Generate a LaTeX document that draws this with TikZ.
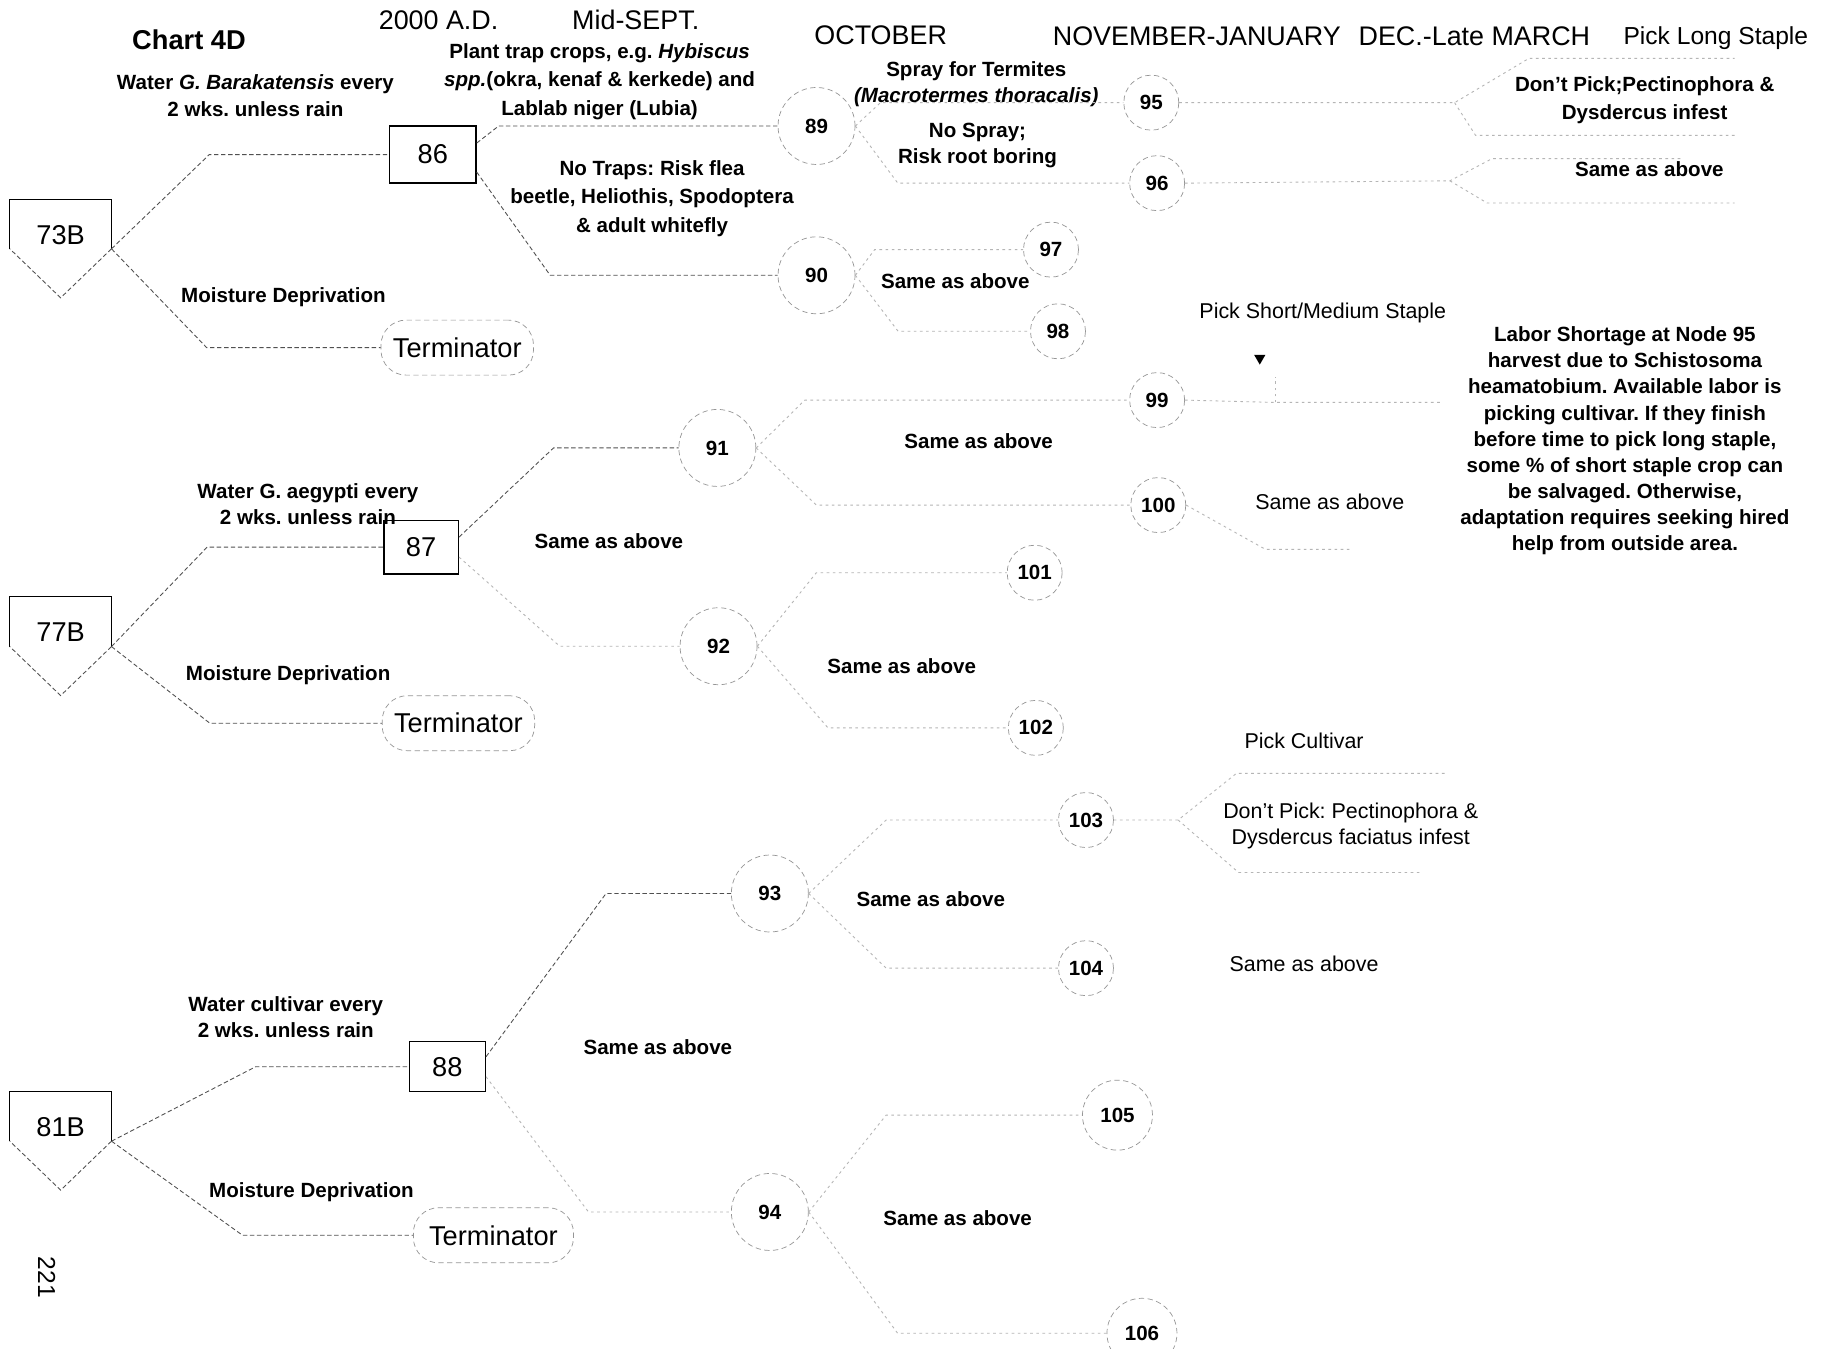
\documentclass[tikz,border=0pt]{standalone}
\usepackage{fontspec}
\setmainfont{Liberation Sans}
\usepackage{tikz}
\usetikzlibrary{arrows.meta,positioning,shapes.geometric}
\definecolor{inkgray}{RGB}{80,80,80}
\definecolor{fadegray}{RGB}{150,150,150}
\newcommand{\hdrfont}{\fontsize{15.3}{18}\selectfont}
\newcommand{\lblfont}{\fontsize{11.7}{14.9}\selectfont\bfseries}
\newcommand{\tallfont}{\fontsize{11.7}{16.2}\selectfont\bfseries}
\newcommand{\notefont}{\fontsize{12.2}{14.9}\selectfont}
\newcommand{\bigfont}{\fontsize{15.5}{18}\selectfont}
\frenchspacing

\begin{document}
\begin{tikzpicture}[
  x=0.2333mm, y=-0.2333mm,
  plate/.style={rectangle,minimum width=2.02cm,text height=0.895cm,text depth=0.085cm,
                inner ysep=0pt,inner xsep=0pt,font=\bigfont},
  box/.style={rectangle,draw=black,line width=0.8pt,inner sep=0pt,font=\bigfont},
  term/.style={rectangle,rounded corners=0.5cm,draw=fadegray,densely dashed,
               minimum width=3.05cm,minimum height=1.1cm,font=\bigfont},
  circ/.style={circle,draw=fadegray,densely dashed,inner sep=0pt,font=\lblfont},
  bigc/.style={circ,minimum size=1.54cm},
  smallc/.style={circ,minimum size=1.1cm},
  tri/.style={regular polygon,regular polygon sides=3,shape border rotate=180,
              fill=black,inner sep=0pt,minimum size=0.26cm},
  hdr/.style={font=\hdrfont},
  lbl/.style={align=center,font=\lblfont},
  note/.style={align=center,font=\notefont},
  branch/.style={draw=inkgray,dash pattern=on 2.5pt off 1.5pt,line width=0.5pt},
  faint/.style={draw=fadegray!70,dash pattern=on 1.5pt off 2pt,line width=0.5pt}
]
\path[use as bounding box,fill=white] (0,0) rectangle (1568,1156);

% column heads
\node[font=\bigfont\bfseries] (chart) at (162,34) {Chart 4D};
\node[hdr] (yr) at (376,17) {2000 A.D.};
\node[hdr] (sep) at (545,17) {Mid-SEPT.};
\node[hdr] (oct) at (755,30) {OCTOBER};
\node[hdr] (nov) at (1026,31) {NOVEMBER-JANUARY};
\node[hdr] (dec) at (1264,31) {DEC.-Late MARCH};
\node[font=\fontsize{14}{17}\selectfont] (lng) at (1471,33) {Pick Long Staple};

% starting plots
\node[plate] (p73) at (52,192) {73B};
\node[plate] (p77) at (52,533) {77B};
\node[plate] (p81) at (52,957) {81B};
\foreach \p in {p73,p77,p81}{
  \draw[line width=0.7pt] (\p.south west) -- (\p.north west) -- (\p.north east) -- (\p.south east);
  \draw[branch] (\p.south east) -- ([yshift=-0.98cm]\p.south) -- (\p.south west);
}

% decision boxes and terminators
\node[box,minimum width=1.73cm,minimum height=1.14cm] (n86) at (371,132.5) {86};
\node[box,minimum width=1.49cm,minimum height=1.07cm] (n87) at (361,469) {87};
\node[box,minimum width=1.52cm,minimum height=1.0cm] (n88) at (383.5,914.5) {88};
\node[term] (t73) at (392,298) {Terminator};
\node[term] (t77) at (393,620) {Terminator};
\node[term,minimum width=3.2cm] (t81) at (423,1059) {Terminator};

% chance nodes
\node[bigc] (c89) at (700,108) {89};
\node[bigc] (c90) at (700,236) {90};
\node[bigc] (c91) at (615,384) {91};
\node[bigc] (c92) at (616,554) {92};
\node[bigc] (c93) at (660,766) {93};
\node[bigc] (c94) at (660,1039) {94};
\foreach \n/\x/\y in {95/987/88,96/992/157,97/901/214,98/907/284,99/992/343,100/993/433,
                      101/887/491,102/888/624,103/931/703,104/931/830}
  \node[smallc] (c\n) at (\x,\y) {\n};
\node[smallc,minimum size=1.4cm] (c105) at (958,956) {105};
\node[smallc,minimum size=1.4cm] (c106) at (979,1143) {106};

% branch labels
\node[lbl] (w73) at (219,82) {Water \textit{G. Barakatensis} every\\2 wks. unless rain};
\node[lbl] (m73) at (243,255) {Moisture Deprivation};
\node[lbl,font=\tallfont] (trap) at (514,70) {Plant trap crops, e.g. \textit{Hybiscus}\\\textit{spp.}(okra, kenaf \& kerkede) and\\Lablab niger (Lubia)};
\node[lbl,font=\tallfont] (notrap) at (559,170) {No Traps: Risk flea\\beetle, Heliothis, Spodoptera\\\& adult whitefly};
\node[lbl] (spray) at (837,72) {Spray for Termites\\\textit{(Macrotermes thoracalis)}};
\node[lbl] (nospray) at (838,125) {No Spray;\\Risk root boring};
\node[lbl] (s90) at (819,241) {Same as above};
\node[lbl,font=\tallfont] (dp95) at (1410,86) {Don't Pick;Pectinophora \&\\Dysdercus infest};
\node[lbl] (s96) at (1414,145) {Same as above};
\node[note] (short) at (1134,268) {Pick Short/Medium Staple};
\node[lbl] (labor) at (1393,378) {Labor Shortage at Node 95\\harvest due to Schistosoma\\heamatobium. Available labor is\\picking cultivar. If they finish\\before time to pick long staple,\\some \% of short staple crop can\\be salvaged. Otherwise,\\adaptation requires seeking hired\\help from outside area.};
\node[lbl] (s91) at (839,378) {Same as above};
\node[lbl] (w77) at (264,432) {Water G. aegypti every\\2 wks. unless rain};
\node[lbl] (s87) at (522,464) {Same as above};
\node[note] (s100) at (1140,430) {Same as above};
\node[lbl] (m77) at (247,579) {Moisture Deprivation};
\node[lbl] (s92) at (773,571) {Same as above};
\node[note] (cult) at (1118,635) {Pick Cultivar};
\node[note] (dp103) at (1158,708) {Don't Pick: Pectinophora \&\\Dysdercus faciatus infest};
\node[lbl] (s93) at (798,771) {Same as above};
\node[note] (s104) at (1118,826) {Same as above};
\node[lbl] (w81) at (245,872) {Water cultivar every\\2 wks. unless rain};
\node[lbl] (s88) at (564,898) {Same as above};
\node[lbl] (m81) at (267,1022) {Moisture Deprivation};
\node[lbl] (s94) at (821,1044) {Same as above};
\node[font=\fontsize{14}{17}\selectfont,rotate=-90] (pg) at (40,1095) {221};

% first and second level branches
\draw[branch] (p73.south east) -- ([xshift=-3.59cm]n86.west) -- (n86.west);
\draw[branch] (p73.south east) -- ([xshift=-3.48cm]t73.west) -- (t73.west);
\draw[branch] ([yshift=0.23cm]n86.east) -- ([xshift=-5.58cm]c89.west) -- (c89.west);
\draw[branch] ([yshift=-0.35cm]n86.east) -- ([xshift=-4.55cm]c90.west) -- (c90.west);
\draw[branch] (p77.south east) -- ([xshift=-3.52cm]n87.west) -- (n87.west);
\draw[branch] (p77.south east) -- ([xshift=-3.44cm]t77.west) -- (t77.west);
\draw[branch] ([yshift=0.2cm]n87.east) -- ([xshift=-2.5cm]c91.west) -- (c91.west);
\draw[faint] ([yshift=-0.2cm]n87.east) -- ([xshift=-2.4cm]c92.west) -- (c92.west);
\draw[branch] (p81.south east) -- ([xshift=-3.06cm]n88.west) -- (n88.west);
\draw[branch] (p81.south east) -- ([xshift=-3.41cm]t81.west) -- (t81.west);
\draw[branch] ([yshift=0.2cm]n88.east) -- ([xshift=-2.5cm]c93.west) -- (c93.west);
\draw[faint] ([yshift=-0.2cm]n88.east) -- ([xshift=-2.85cm]c94.west) -- (c94.west);

% third level branches
\draw[faint] (c89.east) -- ([xshift=-4.86cm]c95.west) -- (c95.west);
\draw[faint] (c89.east) -- ([xshift=-4.63cm]c96.west) -- (c96.west);
\draw[faint] (c90.east) -- ([xshift=-2.97cm]c97.west) -- (c97.west);
\draw[faint] (c90.east) -- ([xshift=-2.64cm]c98.west) -- (c98.west);
\draw[faint] (c91.east) -- ([xshift=-6.49cm]c99.west) -- (c99.west);
\draw[faint] (c91.east) -- ([xshift=-6.28cm]c100.west) -- (c100.west);
\draw[faint] (c92.east) -- ([xshift=-3.81cm]c101.west) -- (c101.west);
\draw[faint] (c92.east) -- ([xshift=-3.6cm]c102.west) -- (c102.west);
\draw[faint] (c93.east) -- ([xshift=-3.44cm]c103.west) -- (c103.west);
\draw[faint] (c93.east) -- ([xshift=-3.44cm]c104.west) -- (c104.west);
\draw[faint] (c94.east) -- ([xshift=-3.92cm]c105.west) -- (c105.west);
\draw[faint] (c94.east) -- ([xshift=-4.18cm]c106.west) -- (c106.west);

% picking branches
\coordinate (k95) at (1247,88);
\coordinate (e95a) at (1487,50);
\coordinate (e95b) at (1487,116);
\draw[faint] (c95.east) -- (k95) -- ([xshift=-4.11cm]e95a) -- (e95a);
\draw[faint] (k95) -- ([xshift=-5.18cm]e95b) -- (e95b);
\coordinate (k96) at (1243,155);
\coordinate (e96a) at (1442,136);
\coordinate (e96b) at (1487,174);
\draw[faint] (c96.east) -- (k96) -- ([xshift=-3.8cm]e96a) -- (e96a);
\draw[faint] (k96) -- ([xshift=-4.95cm]e96b) -- (e96b);
\coordinate (k99) at (1093,345);
\coordinate (e99) at (1236,345);
\draw[faint] (c99.east) -- (k99) -- (e99);
\draw[faint] (k99) -- ++(0,-22);
\node[tri] (a99) at (1080,307) {};
\coordinate (e100) at (1157,471);
\draw[faint] (c100.east) -- ([xshift=-1.68cm]e100) -- (e100);
\coordinate (k103) at (1010,703);
\coordinate (e103a) at (1240,663);
\coordinate (e103b) at (1217,748);
\draw[faint] (c103.east) -- (k103) -- ([xshift=-4.2cm]e103a) -- (e103a);
\draw[faint] (k103) -- ([xshift=-3.62cm]e103b) -- (e103b);
\end{tikzpicture}
\end{document}
